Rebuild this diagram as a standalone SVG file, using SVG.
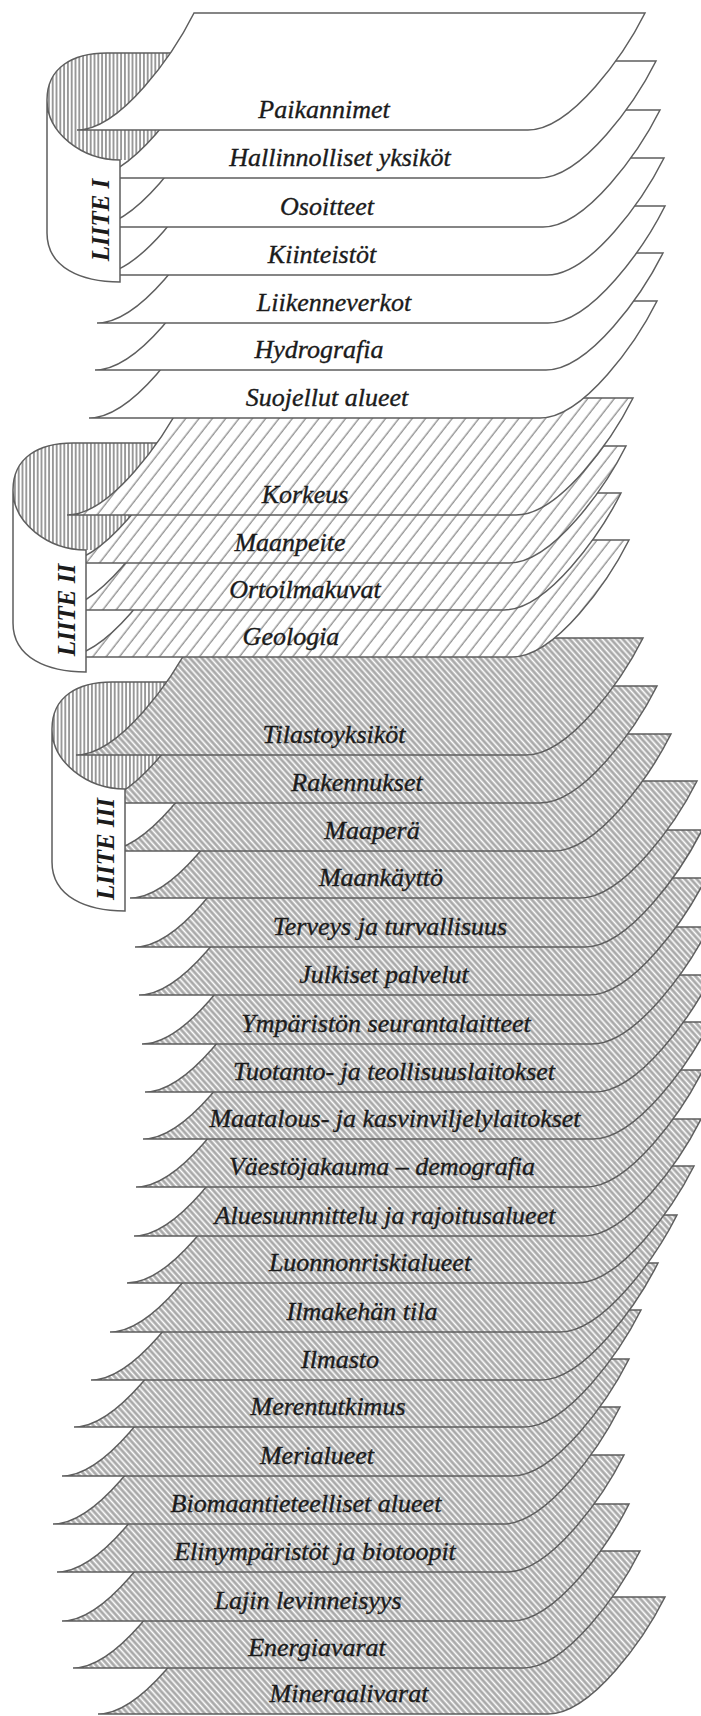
<svg xmlns="http://www.w3.org/2000/svg" width="701" height="1716" viewBox="0 0 701 1716">
<defs>
<pattern id="pV" patternUnits="userSpaceOnUse" width="3.8" height="10"><rect width="3.8" height="10" fill="#fff"/><line x1="1.9" y1="0" x2="1.9" y2="10" stroke="#3a3a3a" stroke-width="1"/></pattern>
<pattern id="pII" patternUnits="userSpaceOnUse" width="10.5" height="10" patternTransform="rotate(38)"><rect width="10.5" height="10" fill="#fff"/><line x1="5" y1="0" x2="5" y2="10" stroke="#8c8c8c" stroke-width="1.3"/></pattern>
<pattern id="pIII" patternUnits="userSpaceOnUse" width="4.4" height="10" patternTransform="rotate(-42)"><rect width="4.4" height="10" fill="#a9a9a9"/><line x1="2.2" y1="0" x2="2.2" y2="10" stroke="#fff" stroke-width="1.6"/></pattern>
</defs>
<style>
.s1{fill:#fff;stroke:#5e5e5e;stroke-width:1.5}
.s2{fill:url(#pII);stroke:#5e5e5e;stroke-width:1.5}
.s3{fill:url(#pIII);stroke:#5e5e5e;stroke-width:1.5}
.back{fill:url(#pV);stroke:none}
.edge{fill:none;stroke:#5e5e5e;stroke-width:1.5}
.face{fill:#fff;stroke:#5e5e5e;stroke-width:1.5}
.t{font-family:"Liberation Serif",serif;font-style:italic;font-size:26px;fill:#1b1b1b;stroke:#1b1b1b;stroke-width:0.35;text-anchor:middle}
.lbl{font-family:"Liberation Serif",serif;font-style:italic;font-weight:bold;font-size:25px;fill:#1b1b1b;text-anchor:middle}
</style>
<rect width="701" height="1716" fill="#fff"/>
<g id="backs">
<g transform="translate(47,53)"><path class="back" d="M0,47C0,15 25,0 60,0L200,0L200,107L73,107C35,107 0,80 0,47Z"/><path class="edge" d="M0,47C0,15 25,0 60,0L200,0"/></g>
<g transform="translate(13,443)"><path class="back" d="M0,47C0,15 25,0 60,0L200,0L200,107L73,107C35,107 0,80 0,47Z"/><path class="edge" d="M0,47C0,15 25,0 60,0L200,0"/></g>
<g transform="translate(52,682)"><path class="back" d="M0,47C0,15 25,0 60,0L200,0L200,107L73,107C35,107 0,80 0,47Z"/><path class="edge" d="M0,47C0,15 25,0 60,0L200,0"/></g>
</g>
<g id="liite3-sheets">
<g id="s-mineraalivarat"><path class="s3" d="M98 1714h450c44 0 97-77 117-117h-450c-20 40-73 117-117 117z"/><text class="t" x="349" y="1702">Mineraalivarat</text></g>
<g id="s-energiavarat"><path class="s3" d="M73 1668h450c44 0 97-77 117-117h-450c-20 40-73 117-117 117z"/><text class="t" x="317" y="1656">Energiavarat</text></g>
<g id="s-lajin"><path class="s3" d="M62 1621h450c44 0 97-77 117-117h-450c-20 40-73 117-117 117z"/><text class="t" x="308" y="1609">Lajin levinneisyys</text></g>
<g id="s-elinymparistot"><path class="s3" d="M57 1572h450c44 0 97-77 117-117h-450c-20 40-73 117-117 117z"/><text class="t" x="315" y="1560">Elinympäristöt ja biotoopit</text></g>
<g id="s-biomaantieteelliset"><path class="s3" d="M53 1524h450c44 0 97-77 117-117h-450c-20 40-73 117-117 117z"/><text class="t" x="306" y="1512">Biomaantieteelliset alueet</text></g>
<g id="s-merialueet"><path class="s3" d="M62 1476h450c44 0 97-77 117-117h-450c-20 40-73 117-117 117z"/><text class="t" x="317" y="1464">Merialueet</text></g>
<g id="s-merentutkimus"><path class="s3" d="M74 1427h450c44 0 97-77 117-117h-450c-20 40-73 117-117 117z"/><text class="t" x="328" y="1415">Merentutkimus</text></g>
<g id="s-ilmasto"><path class="s3" d="M91 1380h450c44 0 97-77 117-117h-450c-20 40-73 117-117 117z"/><text class="t" x="340" y="1368">Ilmasto</text></g>
<g id="s-ilmakehan"><path class="s3" d="M110 1332h450c44 0 97-77 117-117h-450c-20 40-73 117-117 117z"/><text class="t" x="362" y="1320">Ilmakehän tila</text></g>
<g id="s-luonnonriski"><path class="s3" d="M127 1283h450c44 0 97-77 117-117h-450c-20 40-73 117-117 117z"/><text class="t" x="370" y="1271">Luonnonriskialueet</text></g>
<g id="s-aluesuunnittelu"><path class="s3" d="M134 1236h450c44 0 97-77 117-117h-450c-20 40-73 117-117 117z"/><text class="t" x="385" y="1224">Aluesuunnittelu ja rajoitusalueet</text></g>
<g id="s-vaesto"><path class="s3" d="M136 1187h450c44 0 97-77 117-117h-450c-20 40-73 117-117 117z"/><text class="t" x="382" y="1175">Väestöjakauma – demografia</text></g>
<g id="s-maatalous"><path class="s3" d="M143 1139h450c44 0 97-77 117-117h-450c-20 40-73 117-117 117z"/><text class="t" x="395" y="1127">Maatalous- ja kasvinviljelylaitokset</text></g>
<g id="s-tuotanto"><path class="s3" d="M145 1092h450c44 0 97-77 117-117h-450c-20 40-73 117-117 117z"/><text class="t" x="394" y="1080">Tuotanto- ja teollisuuslaitokset</text></g>
<g id="s-ymparisto"><path class="s3" d="M142 1044h450c44 0 97-77 117-117h-450c-20 40-73 117-117 117z"/><text class="t" x="386" y="1032">Ympäristön seurantalaitteet</text></g>
<g id="s-julkiset"><path class="s3" d="M139 995h450c44 0 97-77 117-117h-450c-20 40-73 117-117 117z"/><text class="t" x="384" y="983">Julkiset palvelut</text></g>
<g id="s-terveys"><path class="s3" d="M135 947h450c44 0 97-77 117-117h-450c-20 40-73 117-117 117z"/><text class="t" x="390" y="935">Terveys ja turvallisuus</text></g>
<g id="s-maankaytto"><path class="s3" d="M130 898h450c44 0 97-77 117-117h-450c-20 40-73 117-117 117z"/><text class="t" x="381" y="886">Maankäyttö</text></g>
<g id="s-maapera"><path class="s3" d="M104 851h450c44 0 97-77 117-117h-450c-20 40-73 117-117 117z"/><text class="t" x="372" y="839">Maaperä</text></g>
<g id="s-rakennukset"><path class="s3" d="M90 803h450c44 0 97-77 117-117h-450c-20 40-73 117-117 117z"/><text class="t" x="357" y="791">Rakennukset</text></g>
<g id="s-tilastoyksikot"><path class="s3" d="M76 755h450c44 0 97-77 117-117h-450c-20 40-73 117-117 117z"/><text class="t" x="334" y="743">Tilastoyksiköt</text></g>
</g>
<g id="liite2-sheets">
<g id="s-geologia"><path class="s2" d="M63 657h449c44 0 97-77 117-117h-449c-20 40-73 117-117 117z"/><text class="t" x="291" y="645">Geologia</text></g>
<g id="s-ortoilmakuvat"><path class="s2" d="M55 610h449c44 0 97-77 117-117h-449c-20 40-73 117-117 117z"/><text class="t" x="305" y="598">Ortoilmakuvat</text></g>
<g id="s-maanpeite"><path class="s2" d="M60 563h449c44 0 97-77 117-117h-449c-20 40-73 117-117 117z"/><text class="t" x="290" y="551">Maanpeite</text></g>
<g id="s-korkeus"><path class="s2" d="M67 515h449c44 0 97-77 117-117h-449c-20 40-73 117-117 117z"/><text class="t" x="305" y="503">Korkeus</text></g>
</g>
<g id="liite1-sheets">
<g id="s-suojellut"><path class="s1" d="M89 418h451c44 0 97-77 117-117h-451c-20 40-73 117-117 117z"/><text class="t" x="327" y="406">Suojellut alueet</text></g>
<g id="s-hydrografia"><path class="s1" d="M95 370h451c44 0 97-77 117-117h-451c-20 40-73 117-117 117z"/><text class="t" x="319" y="358">Hydrografia</text></g>
<g id="s-liikenneverkot"><path class="s1" d="M97 323h451c44 0 97-77 117-117h-451c-20 40-73 117-117 117z"/><text class="t" x="334" y="311">Liikenneverkot</text></g>
<g id="s-kiinteistot"><path class="s1" d="M96 275h451c44 0 97-77 117-117h-451c-20 40-73 117-117 117z"/><text class="t" x="322" y="263">Kiinteistöt</text></g>
<g id="s-osoitteet"><path class="s1" d="M92 227h451c44 0 97-77 117-117h-451c-20 40-73 117-117 117z"/><text class="t" x="327" y="215">Osoitteet</text></g>
<g id="s-hallinnolliset"><path class="s1" d="M88 178h451c44 0 97-77 117-117h-451c-20 40-73 117-117 117z"/><text class="t" x="340" y="166">Hallinnolliset yksiköt</text></g>
<g id="s-paikannimet"><path class="s1" d="M77 130h451c44 0 97-77 117-117h-451c-20 40-73 117-117 117z"/><text class="t" x="324" y="118">Paikannimet</text></g>
</g>
<g id="liite1-band" transform="translate(47,53)"><path class="face" d="M0,47C0,80 35,107 73,107L73,229C35,229 0,215 0,180Z"/><text class="lbl" transform="translate(54,167) rotate(-90)" x="0" y="8">LIITE I</text></g>
<g id="liite2-band" transform="translate(13,443)"><path class="face" d="M0,47C0,80 35,107 73,107L73,229C35,229 0,215 0,180Z"/><text class="lbl" transform="translate(54,167) rotate(-90)" x="0" y="8">LIITE II</text></g>
<g id="liite3-band" transform="translate(52,682)"><path class="face" d="M0,47C0,80 35,107 73,107L73,229C35,229 0,215 0,180Z"/><text class="lbl" transform="translate(54,167) rotate(-90)" x="0" y="8">LIITE III</text></g>
<g id="connectors"></g>
</svg>
